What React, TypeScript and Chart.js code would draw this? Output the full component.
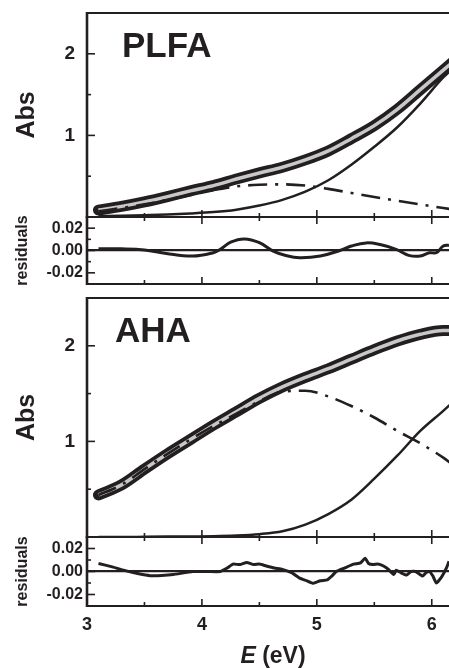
import React, { useEffect, useRef } from 'react';
import { Chart, registerables } from 'chart.js';

Chart.register(...registerables);

const INK = '#231f20';
const GRAY = '#c8c8c8';
const FONT = "'Liberation Sans', Arial, Helvetica, sans-serif";

// ---------- data ----------
const ENERGY = [3.1, 3.3, 3.5, 3.7, 3.9, 4.1, 4.3, 4.5, 4.7, 4.9, 5.1, 5.3, 5.5, 5.7, 5.9, 6.1, 6.2];

const PLFA_DATA = [0.085, 0.13, 0.185, 0.25, 0.32, 0.385, 0.465, 0.54, 0.61, 0.70, 0.81, 0.96, 1.12, 1.32, 1.56, 1.80, 1.92];
const PLFA_FIT = [0.085, 0.13, 0.185, 0.25, 0.32, 0.385, 0.465, 0.54, 0.61, 0.70, 0.81, 0.96, 1.12, 1.32, 1.56, 1.80, 1.92];
const PLFA_BAND1 = [0.07, 0.11, 0.155, 0.21, 0.27, 0.33, 0.375, 0.395, 0.40, 0.385, 0.345, 0.295, 0.245, 0.20, 0.155, 0.11, 0.09];
const PLFA_BAND2 = [0.01, 0.015, 0.022, 0.03, 0.043, 0.06, 0.09, 0.14, 0.21, 0.31, 0.45, 0.64, 0.86, 1.10, 1.39, 1.71, 1.84];

const AHA_DATA = [0.44, 0.545, 0.71, 0.87, 1.02, 1.17, 1.31, 1.45, 1.57, 1.67, 1.76, 1.86, 1.96, 2.05, 2.12, 2.16, 2.16];
const AHA_FIT = [0.44, 0.545, 0.71, 0.87, 1.02, 1.17, 1.31, 1.45, 1.57, 1.67, 1.76, 1.86, 1.96, 2.05, 2.12, 2.16, 2.16];
const AHA_BAND1 = [0.44, 0.545, 0.71, 0.87, 1.02, 1.16, 1.29, 1.42, 1.52, 1.53, 1.47, 1.37, 1.25, 1.11, 0.98, 0.83, 0.74];
const AHA_BAND2 = [0, 0, 0.002, 0.004, 0.006, 0.008, 0.015, 0.03, 0.06, 0.13, 0.24, 0.39, 0.61, 0.85, 1.11, 1.32, 1.43];

const PLFA_RES_E = [3.1, 3.3, 3.5, 3.69, 3.92, 4.1, 4.16, 4.25, 4.37, 4.5, 4.62, 4.73, 4.85, 5.03, 5.2, 5.3, 5.43, 5.55, 5.69, 5.8, 5.9, 5.98, 6.04, 6.1, 6.15];
const PLFA_RES = [0.0015, 0.0015, 0.0005, -0.0027, -0.005, -0.002, 0.001, 0.0075, 0.0104, 0.007, -0.0006, -0.0045, -0.0065, -0.005, 0.0, 0.004, 0.0068, 0.0053, 0.001, -0.0044, -0.005, -0.002, -0.002, 0.004, 0.0047];

const AHA_RES_E = [3.1, 3.22, 3.35, 3.45, 3.55, 3.65, 3.75, 3.92, 4.05, 4.16, 4.22, 4.27, 4.33, 4.39, 4.45, 4.5, 4.56, 4.63, 4.7, 4.78, 4.85, 4.91, 4.97, 5.03, 5.09, 5.13, 5.17, 5.24, 5.32, 5.38, 5.42, 5.45, 5.49, 5.53, 5.58, 5.62, 5.67, 5.69, 5.73, 5.78, 5.82, 5.86, 5.92, 5.95, 5.98, 6.01, 6.04, 6.09, 6.13, 6.15];
const AHA_RES = [0.007, 0.004, 0.0003, -0.002, -0.0036, -0.0035, -0.0027, 0.0, 0.0, 0.0, 0.003, 0.0064, 0.006, 0.0079, 0.006, 0.0065, 0.0048, 0.003, 0.0018, -0.001, -0.0058, -0.008, -0.0103, -0.008, -0.0073, -0.004, 0.0, 0.003, 0.0064, 0.0075, 0.0115, 0.007, 0.006, 0.0065, 0.0048, 0.002, -0.0027, 0.0012, -0.001, -0.003, 0.0, 0.0, -0.004, -0.001, 0.0, -0.004, -0.01, -0.004, 0.0036, 0.009];

const X_TICKS = [3, 3.5, 4, 4.5, 5, 5.5, 6];
const X_LABELS = ['3', '', '4', '', '5', '', '6'];
const ABS_TICKS = [0, 0.5, 1, 1.5, 2];
const ABS_LABELS = ['', '', '1', '', '2'];
const RES_TICKS = [-0.02, -0.01, 0, 0.01, 0.02];
const RES_LABELS = ['-0.02', '', '0.00', '', '0.02'];

// ---------- helpers ----------
const pts = (xs: number[], ys: number[]) => xs.map((x, i) => ({ x, y: ys[i] }));

const framePlugin = {
  id: 'frame',
  afterDraw(chart: any, _args: any, o: any) {
    const { ctx, chartArea: a } = chart;
    const xs = chart.scales.x;
    const ys = chart.scales.y;
    ctx.save();
    ctx.strokeStyle = INK;
    ctx.fillStyle = INK;
    ctx.lineCap = 'butt';
    const line = (x1: number, y1: number, x2: number, y2: number) => {
      ctx.beginPath();
      ctx.moveTo(x1, y1);
      ctx.lineTo(x2, y2);
      ctx.stroke();
    };
    ctx.lineWidth = 2.2;
    line(a.left, a.top, a.right + 2, a.top);
    line(a.left, a.bottom, a.right + 2, a.bottom);
    ctx.lineWidth = 2.6;
    line(a.left, a.top - 1, a.left, a.bottom + 1);
    ctx.lineWidth = 1.6;
    X_TICKS.forEach((v, i) => {
      const px = xs.getPixelForValue(v);
      const len = X_LABELS[i] ? 7 : 4;
      if (o.ticksBottom) line(px, a.bottom, px, a.bottom - len);
      if (o.ticksTop) line(px, a.top, px, a.top + len);
    });
    (o.yTicks as number[]).forEach((v, i) => {
      const py = ys.getPixelForValue(v);
      if (py >= a.bottom - 1 || py <= a.top + 1) return;
      const len = o.yLabels[i] ? 8 : 4;
      line(a.left, py, a.left + len, py);
    });
    if (o.label) {
      ctx.font = `bold 35px ${FONT}`;
      ctx.textBaseline = 'alphabetic';
      ctx.textAlign = 'left';
      ctx.fillText(o.label, a.left + o.labelDx, a.top + 44);
    }
    if (o.xTitle) {
      const f1 = `italic bold 23px ${FONT}`;
      const f2 = `bold 23px ${FONT}`;
      ctx.font = f1;
      const w1 = ctx.measureText('E').width;
      ctx.font = f2;
      const w2 = ctx.measureText(' (eV)').width;
      const cx = (a.left + a.right) / 2 + 5;
      const x0 = cx - (w1 + w2) / 2;
      const base = chart.height - 5;
      ctx.textBaseline = 'alphabetic';
      ctx.textAlign = 'left';
      ctx.font = f1;
      ctx.fillText('E', x0, base);
      ctx.font = f2;
      ctx.fillText(' (eV)', x0 + w1, base);
    }
    ctx.restore();
  },
};

const xScale = (show: boolean) => ({
  type: 'linear',
  min: 3,
  max: 6.15,
  display: show,
  afterBuildTicks: (s: any) => {
    s.ticks = X_TICKS.map((v) => ({ value: v }));
  },
  ticks: {
    autoSkip: false,
    maxRotation: 0,
    minRotation: 0,
    color: INK,
    padding: 0,
    font: { family: FONT, size: 18, weight: 'bold' },
    callback: (_v: any, i: number) => X_LABELS[i],
  },
  grid: { display: false },
  border: { display: false },
  afterFit: (s: any) => {
    if (show) s.height = 62;
    s.paddingLeft = 0;
    s.paddingRight = 0;
  },
});

const absY = {
  type: 'linear',
  min: 0,
  max: 2.5,
  afterBuildTicks: (s: any) => {
    s.ticks = ABS_TICKS.map((v) => ({ value: v }));
  },
  ticks: {
    color: INK,
    padding: 4,
    font: { family: FONT, size: 19, weight: 'bold' },
    callback: (_v: any, i: number) => ABS_LABELS[i],
  },
  grid: { display: false },
  border: { display: false },
  title: {
    display: true,
    text: 'Abs',
    color: INK,
    font: { family: FONT, size: 25, weight: 'bold' },
    padding: { top: 12, bottom: 0 },
  },
  afterFit: (s: any) => {
    s.width = 87;
    s.paddingTop = 0;
    s.paddingBottom = 0;
  },
};

const resY = {
  type: 'linear',
  min: -0.03,
  max: 0.03,
  afterBuildTicks: (s: any) => {
    s.ticks = RES_TICKS.map((v) => ({ value: v }));
  },
  ticks: {
    color: INK,
    padding: 4,
    font: { family: FONT, size: 16, weight: 'bold' },
    callback: (_v: any, i: number) => RES_LABELS[i],
  },
  grid: {
    display: true,
    drawTicks: false,
    lineWidth: 2.2,
    color: (c: any) => (c.tick && Math.abs(c.tick.value) < 1e-9 ? INK : 'rgba(0,0,0,0)'),
  },
  border: { display: false },
  title: {
    display: true,
    text: 'residuals',
    color: INK,
    font: { family: FONT, size: 16, weight: 'bold' },
    padding: { top: 13, bottom: 0 },
  },
  afterFit: (s: any) => {
    s.width = 87;
    s.paddingTop = 0;
    s.paddingBottom = 0;
  },
};

const absDatasets = (data: number[], fit: number[], b1: number[], b2: number[]) => [
  {
    label: 'component 2',
    data: pts(ENERGY, b2),
    borderColor: INK,
    borderWidth: 2.5,
    cubicInterpolationMode: 'monotone',
    order: 0,
  },
  {
    label: 'component 1',
    data: pts(ENERGY, b1),
    borderColor: INK,
    borderWidth: 2.6,
    borderDash: [19, 8, 3, 8],
    cubicInterpolationMode: 'monotone',
    order: 1,
  },
  {
    label: 'fit',
    data: pts(ENERGY, fit),
    borderColor: GRAY,
    borderWidth: 3.5,
    cubicInterpolationMode: 'monotone',
    order: 2,
  },
  {
    label: 'data',
    data: pts(ENERGY, data),
    borderColor: INK,
    borderWidth: 11,
    borderCapStyle: 'round',
    borderJoinStyle: 'round',
    cubicInterpolationMode: 'monotone',
    order: 3,
  },
];

const baseOptions = (padding: any, scales: any, frame: any) => ({
  responsive: false,
  animation: false,
  events: [],
  devicePixelRatio: 1,
  layout: { padding },
  elements: { point: { radius: 0 } },
  plugins: { legend: { display: false }, tooltip: { enabled: false }, frame },
  scales,
});

const cfgPlfaAbs = () => ({
  type: 'line',
  data: { datasets: absDatasets(PLFA_DATA, PLFA_FIT, PLFA_BAND1, PLFA_BAND2) },
  options: baseOptions({ top: 13, bottom: 3, left: 0, right: 0 }, { x: xScale(false), y: absY }, {
    ticksBottom: true, ticksTop: false, yTicks: ABS_TICKS, yLabels: ABS_LABELS, label: 'PLFA', labelDx: 35,
  }),
  plugins: [framePlugin],
});

const cfgPlfaRes = () => ({
  type: 'line',
  data: {
    datasets: [{ label: 'residuals', data: pts(PLFA_RES_E, PLFA_RES), borderColor: INK, borderWidth: 3, tension: 0.4 }],
  },
  options: baseOptions({ top: 7, bottom: 6, left: 0, right: 0 }, { x: xScale(false), y: resY }, {
    ticksBottom: true, ticksTop: true, yTicks: RES_TICKS, yLabels: RES_LABELS,
  }),
  plugins: [framePlugin],
});

const cfgAhaAbs = () => ({
  type: 'line',
  data: { datasets: absDatasets(AHA_DATA, AHA_FIT, AHA_BAND1, AHA_BAND2) },
  options: baseOptions({ top: 14, bottom: 3, left: 0, right: 0 }, { x: xScale(false), y: absY }, {
    ticksBottom: true, ticksTop: false, yTicks: ABS_TICKS, yLabels: ABS_LABELS, label: 'AHA', labelDx: 28,
  }),
  plugins: [framePlugin],
});

const cfgAhaRes = () => ({
  type: 'line',
  data: {
    datasets: [{ label: 'residuals', data: pts(AHA_RES_E, AHA_RES), borderColor: INK, borderWidth: 3, tension: 0.15 }],
  },
  options: baseOptions({ top: 10, bottom: 0, left: 0, right: 0 }, { x: xScale(true), y: resY }, {
    ticksBottom: true, ticksTop: true, yTicks: RES_TICKS, yLabels: RES_LABELS, xTitle: true,
  }),
  plugins: [framePlugin],
});

function Panel({ top, height, make }: { top: number; height: number; make: () => any }) {
  const ref = useRef<HTMLCanvasElement | null>(null);
  useEffect(() => {
    const chart = new Chart(ref.current as HTMLCanvasElement, make());
    return () => chart.destroy();
  }, []);
  return (
    <canvas
      ref={ref}
      width={449}
      height={height}
      style={{ position: 'absolute', left: 0, top, width: 449, height }}
    />
  );
}

export default function App() {
  return (
    <div style={{ position: 'absolute', left: 0, top: 0, width: 449, height: 668, background: '#fff', overflow: 'hidden' }}>
      <Panel top={0} height={220} make={cfgPlfaAbs} />
      <Panel top={210} height={80} make={cfgPlfaRes} />
      <Panel top={284} height={256} make={cfgAhaAbs} />
      <Panel top={527} height={141} make={cfgAhaRes} />
    </div>
  );
}
